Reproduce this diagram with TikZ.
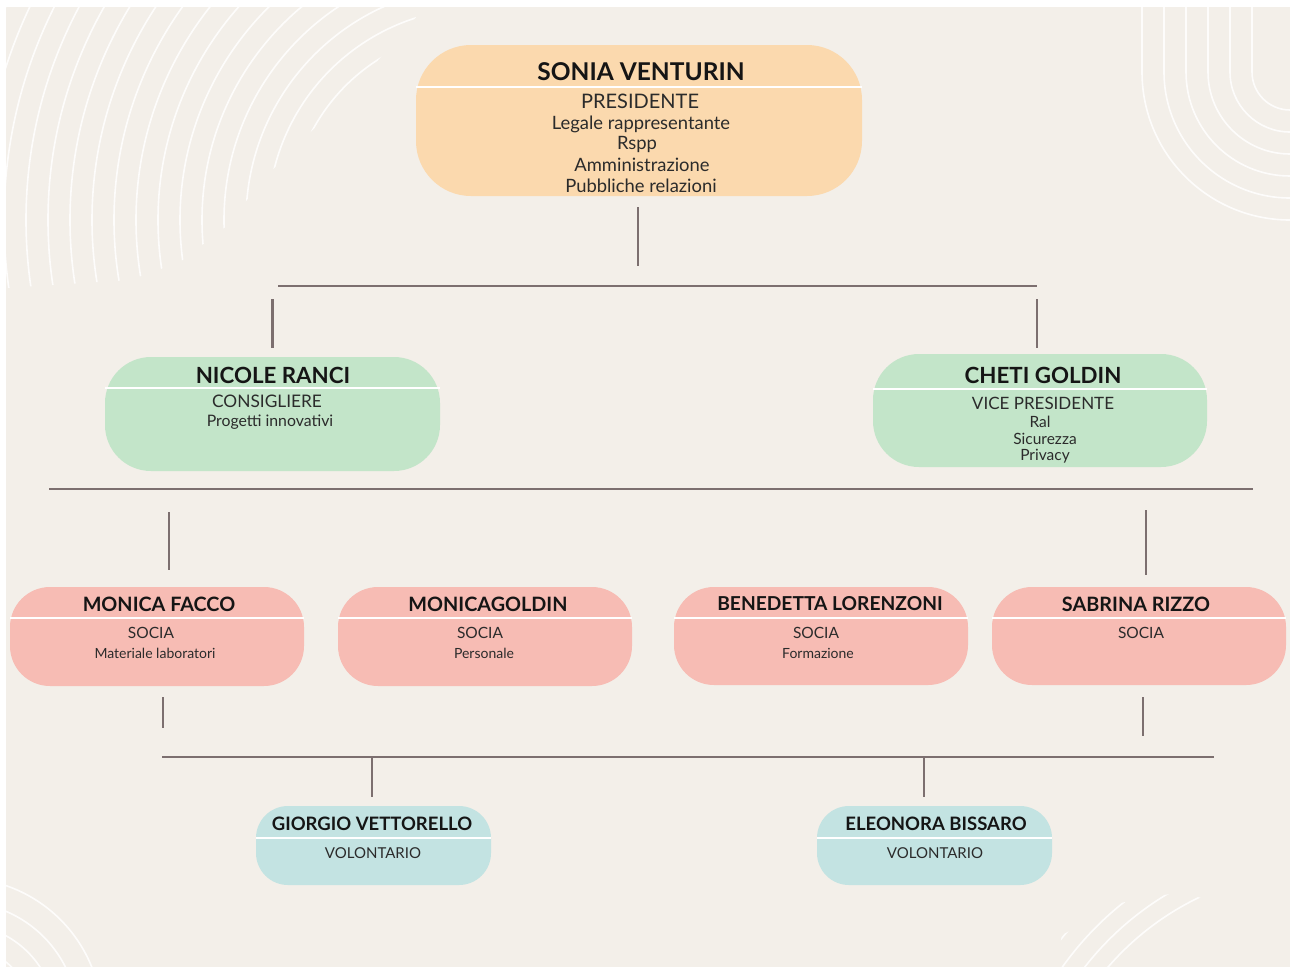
\documentclass[tikz,border=0pt]{standalone}
\usepackage{fontspec}
\setmainfont{Lato}
\usetikzlibrary{calc}
\definecolor{bg}{HTML}{F3EFE9}
\definecolor{peach}{HTML}{FBD9AE}
\definecolor{mint}{HTML}{C3E5C9}
\definecolor{rose}{HTML}{F7BCB4}
\definecolor{aqua}{HTML}{C3E3E2}
\definecolor{conncol}{HTML}{7C6F6F}
\definecolor{ink}{HTML}{151515}
\definecolor{ink2}{HTML}{2B2B2B}
\tikzset{
  pill/.style={draw=none, inner sep=0pt},
  deco/.style={draw=white, line width=1.6pt, opacity=0.85},
  conn/.style={draw=conncol, line width=2.6pt},
  divider/.style={draw=white, line width=2.4pt},
  ttl/.style={text=ink, font=\fontsize{#1}{#1}\selectfont\bfseries, inner sep=0pt},
  sub/.style={text=ink2, font=\fontsize{#1}{#1}\selectfont, inner sep=0pt},
}
\begin{document}
\begin{tikzpicture}[x=1pt,y=1pt]
\useasboundingbox (0,0) rectangle (1290,-967);
\fill[white] (0,0) rectangle (1290,-967);
\fill[bg] (6,-7) rectangle (1290,-967);

% decorations
\begin{scope}
\clip (6,-7) -- (425,-7) -- (365,-75) -- (305,-138) -- (262,-180) -- (228,-225) -- (180,-262) -- (130,-280) -- (6,-288) -- cycle;
\foreach \r in {190,212,...,580} \draw[deco] (480,-220) circle[radius=\r pt];
\end{scope}
\begin{scope}
\clip (6,-7) rectangle (1290,-967);
\foreach \r in {38,60,82,104,126,148}
  \draw[deco] ({1290-\r},-7) -- ({1290-\r},-72) arc[start angle=180,end angle=270,radius=\r pt];
\foreach \r in {74,96,118,142} \draw[deco] (-40,-1020) circle[radius=\r pt];
\end{scope}
\begin{scope}
\clip (1055,-967) -- (1062,-935) -- (1120,-903) -- (1175,-893) -- (1230,-903) -- (1290,-918) -- (1290,-967) -- cycle;
\foreach \r in {280,298,...,390} \draw[deco] (1320,-1150) circle[radius=\r pt];
\end{scope}

% boxes
\node[pill, fill=peach, minimum width=446pt, minimum height=151pt, rounded corners=55pt] (sonia) at (639,-120.5) {};
\node[pill, fill=mint, minimum width=335pt, minimum height=114pt, rounded corners=46pt] (nicole) at (272.5,-414) {};
\node[pill, fill=mint, minimum width=334pt, minimum height=113pt, rounded corners=46pt] (cheti) at (1040,-410.5) {};
\node[pill, fill=rose, minimum width=294pt, minimum height=99pt, rounded corners=40pt] (mf) at (157,-636.5) {};
\node[pill, fill=rose, minimum width=294pt, minimum height=99pt, rounded corners=40pt] (mg) at (485,-636.5) {};
\node[pill, fill=rose, minimum width=294pt, minimum height=98pt, rounded corners=40pt] (bl) at (821,-636) {};
\node[pill, fill=rose, minimum width=294pt, minimum height=98pt, rounded corners=40pt] (sr) at (1139,-636) {};
\node[pill, fill=aqua, minimum width=235pt, minimum height=79pt, rounded corners=32pt] (gv) at (373.5,-845.5) {};
\node[pill, fill=aqua, minimum width=235pt, minimum height=79pt, rounded corners=32pt] (eb) at (934.5,-845.5) {};

% dividers
\draw[divider] (sonia.west |- 0,-87) -- (sonia.east |- 0,-87);
\draw[divider] (nicole.west |- 0,-388) -- (nicole.east |- 0,-388);
\draw[divider] (cheti.west |- 0,-389) -- (cheti.east |- 0,-389);
\draw[divider] (mf.west |- 0,-618) -- (mf.east |- 0,-618);
\draw[divider] (mg.west |- 0,-618) -- (mg.east |- 0,-618);
\draw[divider] (bl.west |- 0,-618) -- (bl.east |- 0,-618);
\draw[divider] (sr.west |- 0,-618) -- (sr.east |- 0,-618);
\draw[divider] (gv.west |- 0,-838) -- (gv.east |- 0,-838);
\draw[divider] (eb.west |- 0,-838) -- (eb.east |- 0,-838);

% texts
\node[ttl=24.5] (soniaT) at (641,-72) {SONIA VENTURIN};
\node[sub=20] (soniaR) at (640,-101) {PRESIDENTE};
\node[sub=18.4] (soniaA) at (641,-124) {Legale rappresentante};
\node[sub=18.4] (soniaB) at (637,-144) {Rspp};
\node[sub=18.4] (soniaC) at (642,-165) {Amministrazione};
\node[sub=18.4] (soniaD) at (641,-186) {Pubbliche relazioni};

\node[ttl=22.3] (nicoleT) at (273,-375) {NICOLE RANCI};
\node[sub=17.3] (nicoleR) at (267,-401) {CONSIGLIERE};
\node[sub=15.8] (nicoleA) at (270,-422) {Progetti innovativi};

\node[ttl=22.3] (chetiT) at (1043,-375) {CHETI GOLDIN};
\node[sub=17] (chetiR) at (1043,-403) {VICE PRESIDENTE};
\node[sub=15.5] (chetiA) at (1040,-422) {Ral};
\node[sub=15.5] (chetiB) at (1045,-439) {Sicurezza};
\node[sub=15.5] (chetiC) at (1045,-456) {Privacy};

\node[ttl=19.8] (mfT) at (159,-604) {MONICA FACCO};
\node[sub=15.5] (mfR) at (151,-633) {SOCIA};
\node[sub=14] (mfA) at (155,-653) {Materiale laboratori};

\node[ttl=19.8] (mgT) at (488,-604) {MONICAGOLDIN};
\node[sub=15.5] (mgR) at (480,-633) {SOCIA};
\node[sub=14] (mgA) at (484,-653) {Personale};

\node[ttl=19.2] (blT) at (830,-604) {BENEDETTA LORENZONI};
\node[sub=15.5] (blR) at (816,-633) {SOCIA};
\node[sub=14] (blA) at (818,-653) {Formazione};

\node[ttl=19.8] (srT) at (1136,-604) {SABRINA RIZZO};
\node[sub=15.5] (srR) at (1141,-633) {SOCIA};

\node[ttl=18.5] (gvT) at (372,-824) {GIORGIO VETTORELLO};
\node[sub=15] (gvR) at (373,-853) {VOLONTARIO};
\node[ttl=18.5] (ebT) at (936,-824) {ELEONORA BISSARO};
\node[sub=15] (ebR) at (935,-853) {VOLONTARIO};

% connectors
\coordinate (busAL) at (278,-286);
\coordinate (busAR) at (1037,-286);
\coordinate (busBL) at (49,-489);
\coordinate (busBR) at (1253,-489);
\coordinate (busCL) at (162,-757);
\coordinate (busCR) at (1214,-757);
\draw[conn] ([xshift=-1pt,yshift=-11pt]sonia.south) -- ++(0,-59);
\draw[conn] (busAL) -- (busAR);
\draw[conn] ([yshift=9pt]nicole.north) -- ++(0,49);
\draw[conn] ([xshift=-3pt,yshift=6pt]cheti.north) -- ++(0,49);
\draw[conn] (busBL) -- (busBR);
\draw[conn] ([xshift=12pt,yshift=17pt]mf.north) -- ++(0,58);
\draw[conn] ([xshift=7pt,yshift=12pt]sr.north) -- ++(0,65);
\draw[conn] ([xshift=6pt,yshift=-11pt]mf.south) -- ++(0,-31);
\draw[conn] ([xshift=4pt,yshift=-12pt]sr.south) -- ++(0,-39);
\draw[conn] (busCL) -- (busCR);
\draw[conn] ([xshift=-1.5pt,yshift=9pt]gv.north) -- ++(0,39);
\draw[conn] ([xshift=-10.5pt,yshift=9pt]eb.north) -- ++(0,39);
\end{tikzpicture}
\end{document}
